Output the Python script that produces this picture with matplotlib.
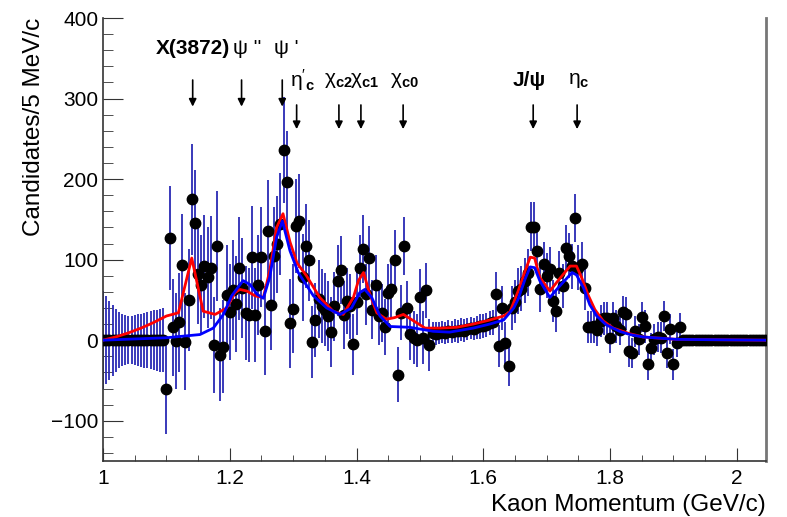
import numpy as np
import matplotlib
matplotlib.use("Agg")
import matplotlib.pyplot as plt
from matplotlib.ticker import MultipleLocator

plt.rcParams['font.family'] = ['Liberation Sans', 'DejaVu Sans']
plt.rcParams['mathtext.fontset'] = 'custom'
plt.rcParams['mathtext.rm'] = 'Liberation Sans'
plt.rcParams['mathtext.it'] = 'Liberation Sans'
plt.rcParams['mathtext.bf'] = 'Liberation Sans:bold'
plt.rcParams['mathtext.default'] = 'regular'

# histogram, 5 MeV/c bins starting at 1.0 GeV/c
x_start = 1.0
bin_width = 0.005
counts = [
    0, 0, 0, 0, 0, 0, 0, 0, 0, 0, 0, 0, 0, 0, 0, 0, 0, 0, 0, 0,
    -61, 127, 16, -1, 22, 93, -2, 50, 175, 145,
    82, 69, 92, 78, 90, -6, 117, -18, -8, 56,
    35, 62, 45, 89, 65, 34, 31, 103, 31, 69,
    103, 12, 136, 44, 105, 119, 144, 236, 196, 21,
    39, 142, 148, 78, 117, 99, -2, 25, 51, 42,
    38, 30, 10, 42, 74, 87, 31, 49, 42, -5,
    47, 90, 113, 57, 102, 38, 68, 30, 34, 16,
    58, 63, 100, -43, 34, 117, 40, 8, 3, 0,
    54, 3, 62, -6,
    9, 8, 9, 10, 9, 11, 10, 12, 11, 13, 12, 14, 15, 14, 16, 17, 18, 19, 21, 22,
    57, -7, 40, -4, -32, 40, 48, 61,
    64, 74, 84, 141, 141, 111, 63, 94, 80, 88, 49, 36, 84, 67, 115, 105, 92, 152, 90, 94, 65,
    16, 16, 17, 13, 24, 27, 28, 3, 28, 17, 13, 35, 33, -14, -16, 11, 1, 29, 17, -30,
    -10, 1, 4, 3, 30, -16, 14, -30, -3, 16,
    0, 0, 0, 0, 0, 0, 0, 0, 0, 0, 0, 0, 0, 0, 0, 0, 0, 0, 0, 0, 0, 0, 0, 0, 0, 0, 0,
]
errors = [
    61, 55, 49, 44, 39, 35, 32, 31, 30, 30, 31, 32, 33, 34, 35, 36, 37, 38, 39, 40,
    55, 65, 60, 60, 62, 64, 60, 63, 69, 66,
    62, 62, 64, 63, 64, 59, 68, 58, 58, 62,
    60, 62, 60, 64, 62, 58, 58, 64, 58, 62,
    62, 55, 63, 56, 60, 60, 63, 66, 64, 55,
    55, 58, 58, 54, 52, 50, 45, 46, 48, 46,
    45, 44, 43, 43, 44, 42, 42, 41, 40, 38,
    40, 40, 42, 38, 40, 37, 38, 36, 36, 35,
    36, 36, 37, 34, 34, 36, 34, 33, 33, 33,
    34, 33, 34, 32,
    14, 14, 14, 14, 14, 14, 14, 14, 14, 14, 14, 14, 14, 14, 14, 15, 15, 15, 15, 15,
    28, 26, 27, 26, 25, 27, 27, 28,
    28, 28, 29, 30, 30, 29, 28, 28, 28, 28, 26, 26, 27, 27, 28, 28, 28, 30, 28, 28, 27,
    20, 20, 20, 20, 20, 20, 20, 19, 20, 20, 19, 20, 20, 19, 19, 19, 19, 19, 20, 19,
    19, 19, 19, 19, 19, 19, 19, 19, 18, 18,
    3, 3, 3, 3, 3, 3, 3, 3, 3, 3, 3, 3, 3, 3, 3, 3, 3, 3, 3, 3, 3, 3, 3, 3, 3, 3, 3,
]

# fit curves (total = red, background+other = blue)
red_x = [1.000, 1.020, 1.040, 1.060, 1.080, 1.100, 1.119, 1.140, 1.158, 1.177,
         1.195, 1.208, 1.216, 1.227, 1.240, 1.253, 1.263, 1.274, 1.284, 1.295,
         1.306, 1.321, 1.342, 1.363, 1.379, 1.395, 1.403, 1.411, 1.421, 1.432,
         1.447, 1.460, 1.474, 1.490, 1.508, 1.532, 1.558, 1.584, 1.610, 1.632,
         1.642, 1.655, 1.666, 1.674, 1.681, 1.689, 1.705, 1.718, 1.737, 1.747,
         1.755, 1.766, 1.776, 1.789, 1.805, 1.831, 1.852, 1.905, 2.045]
red_y = [0, 4, 9, 15, 22, 30, 34, 102, 36, 32,
         40, 59, 63, 61, 55, 53, 86, 140, 157, 122,
         96, 80, 53, 36, 32, 53, 74, 84, 57, 34,
         26, 28, 32, 24, 15, 15, 16, 20, 25, 30,
         35, 61, 86, 103, 102, 78, 61, 74, 92, 92,
         78, 55, 38, 24, 15, 8, 4, 1, 0]
blue_x = [1.000, 1.100, 1.153, 1.174, 1.190, 1.203, 1.221, 1.232, 1.243, 1.253,
          1.263, 1.274, 1.283, 1.295, 1.308, 1.332, 1.353, 1.374, 1.392, 1.405,
          1.413, 1.424, 1.437, 1.453, 1.484, 1.521, 1.547, 1.584, 1.610, 1.632,
          1.648, 1.655, 1.666, 1.674, 1.681, 1.689, 1.705, 1.718, 1.740, 1.747,
          1.758, 1.768, 1.779, 1.794, 1.815, 1.831, 1.852, 1.905, 2.045]
blue_y = [0, 3, 7, 15, 32, 55, 74, 69, 57, 52,
          78, 128, 148, 111, 84, 55, 40, 32, 40, 59,
          63, 53, 30, 17, 16, 11, 10, 15, 20, 25,
          40, 51, 76, 91, 90, 74, 53, 65, 84, 81,
          65, 44, 30, 19, 11, 7, 4, 1, 0]

# state arrows: x position, arrow tail y, arrow tip y
arrow_x = [1.1415, 1.2186, 1.2828, 1.3055, 1.3722, 1.4069, 1.4735, 1.6787, 1.748]
arrow_tail = [323, 323, 323, 292, 292, 292, 292, 292, 292]
arrow_tip = [290, 290, 290, 262, 262, 262, 262, 262, 262]

# state labels: (text, x, y, horizontal alignment, bold)
labels = [
    ("X(3872)", 1.1415, 362, 'center', True),
    ("ψ ''", 1.2055, 362, 'left', False),
    ("ψ '", 1.2700, 362, 'left', False),
    (r"$\eta'_{\mathbf{c}}$", 1.2945, 323, 'left', False),
    (r"$\chi_{\mathbf{c2}}$", 1.3480, 323, 'left', False),
    (r"$\chi_{\mathbf{c1}}$", 1.3900, 323, 'left', False),
    (r"$\chi_{\mathbf{c0}}$", 1.4530, 323, 'left', False),
    ("J/ψ", 1.6730, 323, 'center', True),
    (r"$\eta_{\mathbf{c}}$", 1.7330, 323, 'left', False),
]

x = x_start + bin_width * np.arange(len(counts))

fig = plt.figure(figsize=(7.87, 5.17), dpi=100)
ax = fig.add_axes([103 / 787, 1 - 461 / 517, 663 / 787, 443 / 517])

ax.errorbar(x, counts, yerr=errors, fmt='none', ecolor='#2a2ab4', elinewidth=1.3, zorder=2)
ax.plot(x, counts, 'o', color='black', ms=7.5, zorder=3)
ax.plot(red_x, red_y, color='red', lw=2, zorder=4)
ax.plot(blue_x, blue_y, color='blue', lw=2, zorder=5)

for txt, lx, ly, ha, bold in labels:
    ax.text(lx, ly, txt, ha=ha, va='center', fontsize=15,
            fontweight='bold' if bold else 'normal')

for ax_x, tail, tip in zip(arrow_x, arrow_tail, arrow_tip):
    ax.annotate('', xy=(ax_x, tip), xytext=(ax_x, tail),
                arrowprops=dict(arrowstyle='-|>', color='black', lw=1.2,
                                mutation_scale=11, shrinkA=0, shrinkB=0))

ax.set_xlim(1.0, 2.046)
ax.set_ylim(-150, 400)
ax.xaxis.set_minor_locator(MultipleLocator(0.05))
ax.yaxis.set_major_locator(MultipleLocator(100))
ax.yaxis.set_minor_locator(MultipleLocator(20))
ax.set_xticks([1.0, 1.2, 1.4, 1.6, 1.8, 2.0])
ax.set_xticklabels(['1', '1.2', '1.4', '1.6', '1.8', '2'])
ax.tick_params(axis='both', which='both', direction='in', labelsize=15, color='#333333')
ax.tick_params(axis='x', which='major', length=9.5)
ax.tick_params(axis='x', which='minor', length=4.5)
ax.tick_params(axis='y', which='major', length=14.5)
ax.tick_params(axis='y', which='minor', length=7)
ax.tick_params(axis='x', pad=6)

ax.spines['top'].set_visible(False)
ax.spines['right'].set_color('#777777')
ax.spines['right'].set_linewidth(2)
for s in ['left', 'bottom']:
    ax.spines[s].set_color('#333333')
    ax.spines[s].set_linewidth(1.2)

ax.set_xlabel('Kaon Momentum (GeV/c)', fontsize=17.5, loc='right')
ax.set_ylabel('Candidates/5 MeV/c', fontsize=17.5, loc='top')

fig.savefig('out.png', dpi=100)
